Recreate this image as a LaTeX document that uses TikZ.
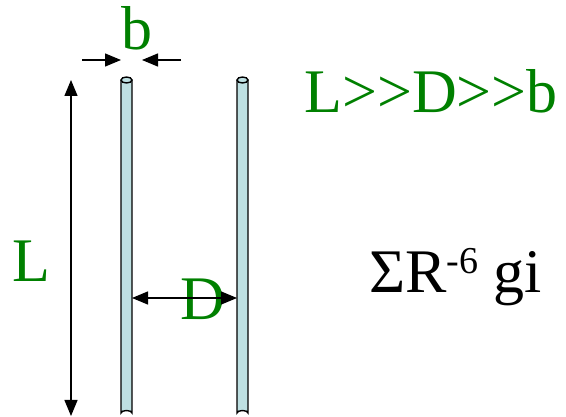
\documentclass[tikz,border=0pt]{standalone}
\usepackage{fontspec}
\setmainfont[Ligatures=NoCommon]{Liberation Serif}
\usetikzlibrary{arrows.meta}
\definecolor{txtgreen}{HTML}{008000}
\definecolor{rodfill}{HTML}{BEE0E2}
\begin{document}
\begin{tikzpicture}[x=1pt,y=-1pt,
  tip/.tip={Triangle[length=16pt,width=13pt]},
  dimline/.style={line width=1.3pt, black},
  rod/.style={draw=black, line width=1.4pt, fill=rodfill},
  lbl/.style={text=txtgreen, font=\fontsize{62}{70}\selectfont, inner sep=0pt},
  blk/.style={text=black, font=\fontsize{62}{70}\selectfont, inner sep=0pt}]
\useasboundingbox (0,0) rectangle (566,417);
% rods
\draw[rod] (121,80) -- (121,413) arc[start angle=180,end angle=360,x radius=5.5,y radius=2.5] -- (132,80);
\draw[rod] (126.5,80) ellipse[x radius=5.5, y radius=3];
\draw[rod] (237,80) -- (237,413) arc[start angle=180,end angle=360,x radius=5.5,y radius=2.5] -- (248,80);
\draw[rod] (242.5,80) ellipse[x radius=5.5, y radius=3];
% coordinates
\coordinate (Ltop) at (71,80);
\coordinate (Lbot) at (71,416);
\coordinate (bl0) at (82,60);
\coordinate (bl1) at (121,60);
\coordinate (br0) at (181,60);
\coordinate (br1) at (142,60);
\coordinate (Dl) at (132,298);
\coordinate (Dr) at (237,298);
% labels
\node[lbl, anchor=base] (b) at (137,50) {b};
\node[lbl, anchor=base] (L) at (31,282) {L};
\node[lbl, anchor=base] (D) at (203,320) {D};
\node[lbl, anchor=base west] (cond) at (304,113) {L>{}>D>{}>b};
\node[blk, anchor=base west] (sum) at (369,293) {ΣR\raisebox{19pt}{\fontsize{38}{40}\selectfont -6} gi};
% dimension arrows
\draw[dimline, {tip}-{tip}] (Ltop) -- (Lbot);
\draw[dimline, -{tip}] (bl0) -- (bl1);
\draw[dimline, -{tip}] (br0) -- (br1);
\draw[dimline, {tip}-{tip}] (Dl) -- (Dr);
\end{tikzpicture}
\end{document}
